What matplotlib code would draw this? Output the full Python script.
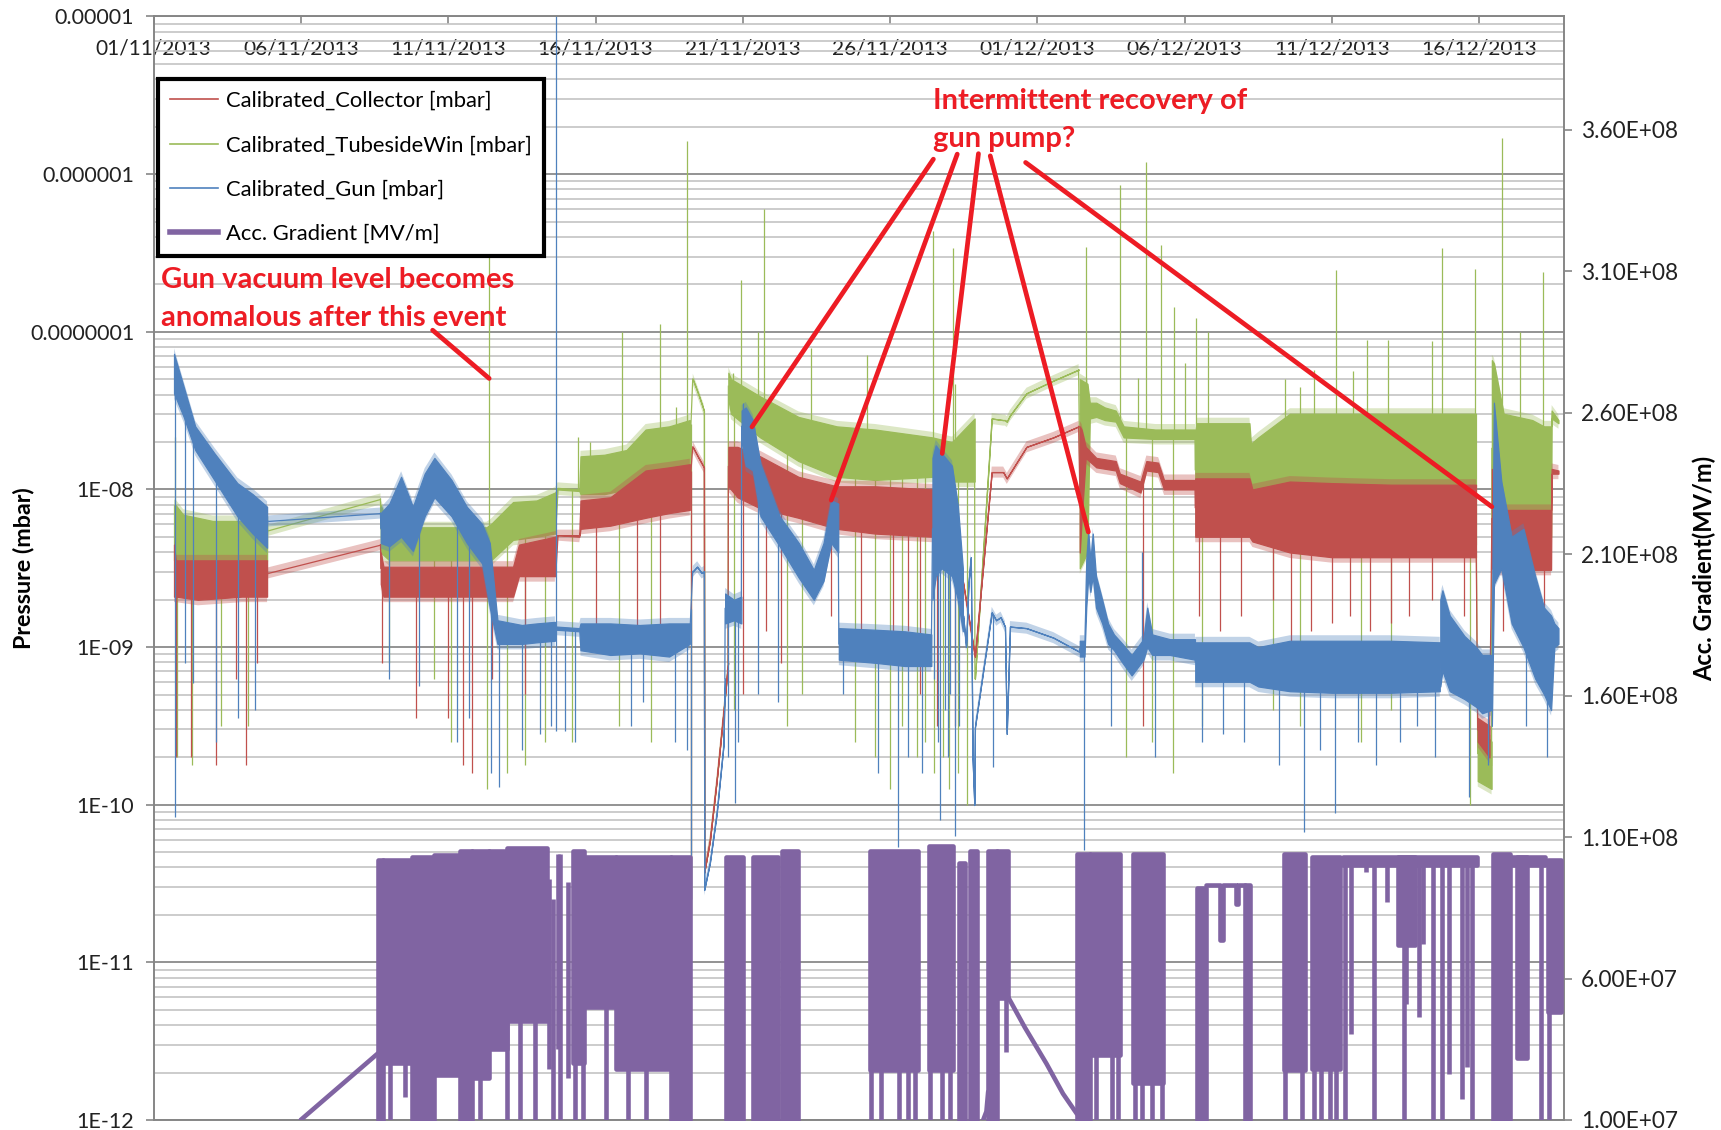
import numpy as np
import matplotlib
matplotlib.use("Agg")
import matplotlib.pyplot as plt
import matplotlib.dates as mdates
from matplotlib.lines import Line2D
from matplotlib.ticker import FixedLocator, FixedFormatter, NullFormatter, LogLocator
from datetime import datetime

plt.rcParams['font.family'] = ['Lato', 'DejaVu Sans']

START = datetime(2013, 11, 1)
T_END = 47.88          # days after 01/11/2013 at the right edge

C_COLL = "#C0504D"
C_TUBE = "#9BBB59"
C_GUN = "#4F81BD"
C_GRAD = "#8064A2"
C_NOTE = "#ED1C24"

# ---------------------------------------------------------------------------
# Pressure traces: time in days since 01/11/2013, values as log10(mbar).
# Each block gives the upper and lower edge of the noisy trace.
# ---------------------------------------------------------------------------
# Calibrated_Gun
gun_s1_t = [0.69, 1.02, 1.41, 2.06, 2.84, 3.36, 3.85]
gun_s1_top = [-7.14, -7.35, -7.60, -7.77, -7.96, -8.03, -8.11]
gun_s1_low = [-7.39, -7.54, -7.75, -7.94, -8.17, -8.28, -8.37]
gun_gap1_t = [3.87, 7.70]
gun_gap1 = [-8.20, -8.15]
gun_s2_t = [7.71, 8.00, 8.40, 8.80, 9.20, 9.53, 10.11, 10.63, 11.15, 11.41, 11.67, 12.50, 13.00, 13.62]
gun_s2_top = [-8.15, -8.09, -7.92, -8.11, -7.90, -7.80, -7.94, -8.11, -8.22, -8.34, -8.83, -8.86, -8.85, -8.84]
gun_s2_low = [-8.34, -8.36, -8.30, -8.39, -8.17, -8.05, -8.17, -8.34, -8.47, -8.75, -8.98, -8.98, -8.97, -8.96]
gun_s3_t = [13.67, 14.45, 14.49, 15.50, 16.50, 17.50, 18.20]
gun_s3_top = [-8.87, -8.88, -8.85, -8.85, -8.86, -8.85, -8.85]
gun_s3_low = [-8.89, -8.90, -9.02, -9.05, -9.04, -9.06, -8.98]
gun_dip_t = [18.30, 18.45, 18.60, 18.68, 18.69, 18.88, 19.11, 19.34, 19.39]
gun_dip = [-8.52, -8.49, -8.53, -8.52, -10.54, -10.37, -10.06, -9.63, -9.20]
gun_s4_t = [19.40, 19.70, 19.95]
gun_s4_top = [-8.66, -8.70, -8.68]
gun_s4_low = [-8.85, -8.83, -8.85]
gun_s5_t = [19.96, 20.10, 20.34, 20.60, 21.25, 21.90, 22.41, 22.74, 23.00, 23.24]
gun_s5_top = [-7.50, -7.48, -7.56, -7.84, -8.17, -8.34, -8.51, -8.34, -8.07, -8.09]
gun_s5_low = [-7.70, -7.85, -7.88, -8.17, -8.36, -8.56, -8.70, -8.58, -8.34, -8.40]
gun_s6_t = [23.26, 24.50, 25.50, 26.40]
gun_s6_top = [-8.88, -8.89, -8.90, -8.92]
gun_s6_low = [-9.08, -9.10, -9.12, -9.12]
gun_s7_t = [26.44, 26.55, 26.75, 27.10, 27.30, 27.47]
gun_s7_top = [-7.80, -7.72, -7.77, -7.85, -8.10, -8.50]
gun_s7_low = [-8.70, -8.55, -8.50, -8.55, -8.70, -8.90]
gun_thin_t = [27.48, 27.58, 27.66, 27.74, 27.80, 27.86, 27.88, 28.45, 28.60, 28.75,
              28.90, 28.96, 29.07, 29.63, 30.54, 31.43]
gun_thin = [-8.80, -9.00, -8.60, -8.43, -9.70, -10.00, -9.51, -8.78, -8.83, -8.81,
            -8.87, -9.55, -8.87, -8.88, -8.94, -9.03]
gun_s8_t = [31.44, 31.60, 31.66, 31.73, 31.80, 31.88, 31.99, 32.20, 32.40, 32.60,
            32.89, 33.20, 33.60, 33.73, 33.90, 34.50, 35.35]
gun_s8_top = [-8.96, -8.96, -8.45, -8.27, -8.45, -8.28, -8.55, -8.70, -8.85, -8.92,
              -8.98, -9.05, -8.95, -8.75, -8.92, -8.95, -8.95]
gun_s8_low = [-9.06, -9.06, -8.75, -8.55, -8.65, -8.55, -8.75, -8.85, -8.98, -9.02,
              -9.10, -9.18, -9.08, -9.00, -9.05, -9.05, -9.08]
gun_s9_t = [35.36, 37.20, 37.50, 38.57, 40.00, 42.00, 43.66]
gun_s9_top = [-8.97, -8.97, -9.00, -8.96, -8.96, -8.96, -8.97]
gun_s9_low = [-9.22, -9.22, -9.25, -9.28, -9.29, -9.29, -9.28]
gun_s10_t = [43.68, 43.75, 44.00, 44.50, 44.90, 45.10, 45.40]
gun_s10_top = [-8.70, -8.64, -8.80, -8.93, -9.00, -9.05, -9.05]
gun_s10_low = [-9.25, -9.15, -9.28, -9.33, -9.38, -9.42, -9.40]
gun_s11_t = [45.43, 45.50, 45.75, 46.10, 46.50, 46.90, 47.20, 47.44, 47.55, 47.69]
gun_s11_top = [-8.90, -7.45, -7.95, -8.30, -8.25, -8.55, -8.75, -8.80, -8.85, -8.88]
gun_s11_low = [-9.50, -8.60, -8.50, -8.85, -9.00, -9.20, -9.30, -9.40, -9.00, -8.98]

gun_dn_t = [0.72, 1.05, 1.35, 2.10, 2.85, 3.45, 8.00, 9.00, 10.30, 10.70, 11.45, 11.72,
            12.50, 13.10, 13.50, 13.66, 13.95, 14.30, 16.20, 16.60, 17.70, 18.10, 18.24,
            19.50, 19.73, 19.85, 20.50, 21.20, 23.40, 24.60, 25.28, 25.60, 26.10, 26.50,
            26.62, 26.70, 26.85, 26.95, 27.05, 27.20, 27.35, 28.50, 31.60, 32.50, 34.00,
            35.60, 36.30, 37.00, 38.20, 39.04, 39.60, 40.10, 40.90, 41.50, 42.30, 42.90,
            43.50, 44.67, 45.30, 46.60, 47.30]
gun_dn_tip = [-10.08, -9.10, -9.23, -9.60, -9.45, -9.40, -9.20, -9.25, -9.60, -9.45, -9.80, -9.89,
              -9.65, -9.55, -9.50, -9.53, -9.53, -9.60, -9.50, -9.35, -9.60, -9.65, -10.60,
              -9.70, -9.99, -9.60, -9.30, -9.35, -9.30, -9.80, -10.27, -9.70, -9.80, -9.20,
              -9.60, -10.10, -9.40, -9.70, -9.30, -10.20, -9.50, -9.76, -10.29, -9.50, -9.70,
              -9.60, -9.55, -9.60, -9.75, -10.17, -9.65, -10.05, -9.60, -9.75, -9.60, -9.50,
              -9.70, -9.95, -9.75, -9.50, -9.70]
gun_up_t = [13.66, 19.99, 33.56]
gun_up_tip = [-4.50, -7.45, -8.40]

# Calibrated_TubesideWin
tube_s1_t = [0.69, 0.75, 1.00, 2.00, 3.00, 3.85]
tube_s1_top = [-8.10, -8.10, -8.16, -8.20, -8.20, -8.17]
tube_s1_low = [-8.45, -8.47, -8.47, -8.47, -8.46, -8.45]
tube_gap1_t = [3.87, 7.70]
tube_gap1 = [-8.26, -8.06]
tube_s2_t = [7.71, 8.00, 11.30, 11.45, 12.20, 13.00, 13.62]
tube_s2_top = [-8.10, -8.24, -8.24, -8.22, -8.08, -8.07, -8.02]
tube_s2_low = [-8.40, -8.45, -8.45, -8.45, -8.32, -8.30, -8.28]
tube_s3_t = [13.63, 13.71, 14.45, 14.49, 15.30, 16.05, 16.70, 17.50, 18.20]
tube_s3_top = [-8.02, -7.99, -8.00, -7.79, -7.78, -7.75, -7.62, -7.60, -7.56]
tube_s3_low = [-8.28, -8.00, -8.01, -8.03, -8.03, -8.00, -8.00, -7.99, -7.99]
tube_dip_t = [18.30, 18.50, 18.68, 18.69, 18.88, 19.11, 19.34, 19.50]
tube_dip = [-7.30, -7.40, -7.50, -10.43, -10.23, -9.85, -9.42, -9.10]
tube_s4_t = [19.51, 19.60, 20.59, 21.89, 23.19, 24.49, 26.44, 27.10, 27.87]
tube_s4_top = [-7.26, -7.30, -7.41, -7.54, -7.60, -7.62, -7.67, -7.70, -7.55]
tube_s4_low = [-7.43, -7.52, -7.67, -7.82, -7.92, -7.94, -7.92, -7.95, -7.95]
tube_thin_t = [27.88, 28.45, 28.83, 28.90, 28.96, 29.07, 29.63, 30.54, 31.40]
tube_thin = [-9.20, -7.55, -7.56, -7.56, -7.57, -7.53, -7.39, -7.31, -7.24]
tube_s5_t = [31.44, 31.70, 31.78, 32.00, 32.29, 32.66, 32.93, 34.00, 35.35]
tube_s5_top = [-7.30, -7.33, -7.45, -7.45, -7.48, -7.50, -7.60, -7.62, -7.62]
tube_s5_low = [-8.50, -8.40, -7.55, -7.54, -7.56, -7.57, -7.67, -7.68, -7.68]
tube_s6_t = [35.36, 35.40, 37.20, 37.25, 37.50, 38.57, 40.20, 41.50, 44.89]
tube_s6_top = [-7.65, -7.58, -7.58, -7.71, -7.67, -7.52, -7.52, -7.52, -7.52]
tube_s6_low = [-8.10, -8.10, -8.15, -8.17, -8.10, -8.05, -8.25, -8.35, -8.35]
tube_s7_t = [44.95, 45.42]
tube_s7_top = [-9.50, -9.60]
tube_s7_low = [-9.85, -9.90]
tube_s8_t = [45.43, 45.50, 45.83, 46.80, 47.20, 47.44, 47.46, 47.69]
tube_s8_top = [-7.18, -7.20, -7.52, -7.56, -7.60, -7.60, -7.50, -7.56]
tube_s8_low = [-8.30, -8.30, -8.30, -8.32, -8.32, -8.30, -7.55, -7.58]

tube_up_t = [0.72, 11.40, 14.40, 14.80, 15.90, 17.20, 17.74, 18.12, 18.39, 19.67,
             19.93, 20.50, 20.72, 22.30, 24.20, 26.47, 27.12, 27.22, 31.64, 32.80,
             33.40, 33.70, 34.19, 34.63, 35.00, 35.39, 35.80, 38.40, 38.90,
             39.38, 40.15, 40.72, 41.20, 41.90, 43.39, 43.74, 44.85, 45.76, 46.40, 47.15]
tube_up_tip = [-7.67, -6.52, -7.67, -7.70, -7.00, -6.95, -7.48, -5.79, -7.33, -7.26,
               -6.67, -7.00, -6.22, -7.10, -7.15, -6.36, -6.47, -7.33, -6.46, -6.07,
               -7.29, -5.92, -6.45, -6.84, -7.20, -6.91, -7.00, -7.30, -7.35,
               -7.24, -6.61, -7.25, -7.05, -7.05, -7.06, -6.47, -6.60, -5.77, -7.00, -6.62]
tube_dn_t = [0.80, 1.30, 2.30, 3.20, 8.00, 9.50, 10.10, 11.30, 12.00, 12.60, 13.30,
             14.20, 15.80, 16.90, 18.24, 19.70, 21.50, 22.00, 23.80, 24.50, 25.00, 25.40,
             25.90, 26.20, 26.50, 26.80, 27.00, 27.30, 27.60, 33.00, 33.90, 34.60, 35.60,
             38.00, 38.90, 41.00, 42.00, 44.70]
tube_dn_tip = [-9.70, -9.75, -9.50, -9.50, -9.10, -9.20, -9.60, -9.90, -9.80, -9.75, -9.60,
               -9.60, -9.50, -9.60, -10.70, -9.40, -9.50, -9.30, -9.60, -9.70, -9.90, -9.50,
               -9.70, -9.60, -9.80, -9.70, -9.90, -9.80, -10.00, -9.70, -9.60, -9.80, -9.50,
               -9.40, -9.50, -9.60, -9.40, -10.00]

# Calibrated_Collector
coll_s1_t = [0.69, 0.75, 1.50, 3.00, 3.85]
coll_s1_top = [-8.35, -8.45, -8.45, -8.45, -8.45]
coll_s1_low = [-8.68, -8.68, -8.70, -8.68, -8.68]
coll_gap1_t = [3.87, 7.70]
coll_gap1 = [-8.53, -8.35]
coll_s2_t = [7.71, 7.80, 12.20, 12.40, 13.62]
coll_s2_top = [-8.40, -8.49, -8.49, -8.35, -8.30]
coll_s2_low = [-8.60, -8.68, -8.68, -8.55, -8.55]
coll_s3_t = [13.63, 13.71, 14.45, 14.49, 15.50, 16.70, 17.50, 18.20]
coll_s3_top = [-8.30, -8.29, -8.29, -8.07, -8.05, -7.88, -7.86, -7.84]
coll_s3_low = [-8.55, -8.29, -8.30, -8.25, -8.23, -8.18, -8.15, -8.13]
coll_dip_t = [18.30, 18.50, 18.68, 18.69, 18.88, 19.11, 19.34, 19.50]
coll_dip = [-7.73, -7.80, -7.86, -10.43, -10.23, -9.85, -9.42, -9.10]
coll_s4_t = [19.51, 19.82, 20.59, 21.89, 23.19, 24.49, 26.44, 27.00]
coll_s4_top = [-7.73, -7.73, -7.79, -7.92, -7.98, -7.98, -8.00, -8.02]
coll_s4_low = [-7.98, -8.05, -8.12, -8.18, -8.25, -8.28, -8.30, -8.30]
coll_thin_t = [27.02, 27.40, 27.88, 28.45, 28.84, 28.96, 29.63, 30.54, 31.40]
coll_thin = [-8.25, -8.50, -9.06, -7.89, -7.89, -7.93, -7.73, -7.67, -7.60]
coll_s5_t = [31.44, 31.50, 31.64, 32.00, 32.66, 32.80, 33.50, 33.70, 34.10, 34.30, 35.35]
coll_s5_top = [-7.60, -7.62, -7.73, -7.80, -7.82, -7.90, -7.95, -7.82, -7.83, -7.94, -7.94]
coll_s5_low = [-8.40, -8.20, -7.80, -7.86, -7.88, -7.96, -8.02, -7.88, -7.89, -8.00, -8.00]
coll_s6_t = [35.36, 37.20, 37.30, 38.57, 40.00, 42.00, 44.89]
coll_s6_top = [-7.93, -7.93, -8.00, -7.95, -7.96, -7.97, -7.97]
coll_s6_low = [-8.30, -8.30, -8.33, -8.40, -8.43, -8.43, -8.43]
coll_s7_t = [44.95, 45.35]
coll_s7_top = [-9.45, -9.50]
coll_s7_low = [-9.60, -9.70]
coll_s8_t = [45.43, 45.50, 47.44, 47.46, 47.69]
coll_s8_top = [-7.87, -8.13, -8.13, -7.87, -7.88]
coll_s8_low = [-8.50, -8.51, -8.51, -7.90, -7.90]

coll_dn_t = [0.75, 1.25, 2.10, 2.80, 3.15, 3.50, 7.75, 8.90, 10.00, 10.50, 10.80, 11.50, 12.60,
             15.00, 16.40, 17.20, 18.24, 20.00, 20.80, 21.30, 23.00, 24.00, 25.10, 25.60, 26.00,
             26.60, 27.20, 33.60, 35.50, 36.20, 36.90, 38.00, 38.60, 39.30, 40.00, 40.60, 41.30,
             42.00, 42.60, 43.40, 44.50, 45.80, 46.50, 47.20]
coll_dn_tip = [-9.70, -9.70, -9.75, -9.20, -9.75, -9.10, -9.10, -9.45, -9.45, -9.75, -9.80, -9.20, -9.30,
               -9.00, -8.90, -9.05, -10.60, -9.30, -8.90, -9.10, -8.80, -9.00, -8.90, -8.90, -9.30,
               -9.50, -9.50, -9.50, -8.80, -8.90, -8.80, -8.70, -9.00, -8.90, -8.85, -8.80, -8.90,
               -8.85, -8.80, -8.70, -8.80, -8.90, -8.85, -8.80]

# ---------------------------------------------------------------------------
# Acc. Gradient (right axis, MV/m)
# Busy periods: start day, end day, upper and lower edge of the switching trace
# ---------------------------------------------------------------------------
grad_on_start = [7.63, 7.80, 8.76, 9.50, 10.40, 10.80, 11.40, 12.00, 14.24, 14.60, 15.70, 17.55,
                 19.43, 20.36, 21.32, 24.32, 26.33, 27.35, 27.71, 28.33, 28.62, 31.35, 31.78,
                 33.25, 35.41, 37.05, 38.37, 39.34, 40.38, 42.25, 45.48, 46.04, 46.27, 47.34]
grad_on_end = [7.80, 8.76, 9.50, 10.40, 10.80, 11.40, 12.00, 13.35, 14.60, 15.70, 17.55, 18.20,
               20.02, 21.20, 21.88, 25.96, 27.14, 27.54, 27.94, 28.62, 29.01, 31.78, 32.80,
               34.27, 35.74, 37.22, 39.08, 40.27, 44.91, 42.82, 46.04, 47.23, 46.61, 47.79]
grad_on_top = [1.02e8, 1.02e8, 1.03e8, 1.035e8, 1.05e8, 1.05e8, 1.05e8, 1.06e8, 1.05e8, 1.03e8, 1.03e8, 1.03e8,
               1.03e8, 1.03e8, 1.05e8, 1.05e8, 1.07e8, 1.01e8, 1.05e8, 1.05e8, 1.05e8, 1.04e8, 1.04e8,
               1.04e8, 9.20e7, 9.29e7, 1.04e8, 1.03e8, 1.03e8, 1.03e8, 1.04e8, 1.03e8, 1.03e8, 1.02e8]
grad_on_low = [1.0e7, 3.0e7, 1.0e7, 2.6e7, 1.0e7, 2.5e7, 3.5e7, 4.5e7, 3.0e7, 5.0e7, 2.8e7, 1.0e7,
               1.0e7, 1.0e7, 1.0e7, 2.75e7, 2.75e7, 1.0e7, 1.0e7, 1.0e7, 5.3e7, 1.0e7, 3.3e7,
               2.3e7, 1.0e7, 1.0e7, 2.75e7, 2.8e7, 1.0e8, 7.17e7, 1.0e7, 1.0e8, 3.2e7, 4.8e7]

# Individual trips: time, level before the drop, level reached
grad_trip_t = [8.02, 8.53, 11.08, 11.98, 12.43, 12.94, 13.42, 13.56, 13.72, 13.81, 14.08, 14.30,
               14.58, 15.37, 16.11, 16.73, 24.35, 24.70, 25.30, 25.60, 25.85, 26.36, 26.75, 27.03,
               28.92, 32.00, 32.55, 32.75, 33.30, 33.55, 33.88, 34.22, 38.42, 38.98, 39.40, 39.62,
               39.95, 40.15, 40.44, 40.65, 41.17, 41.42, 41.86, 42.44, 42.50, 42.94, 43.10, 43.43,
               43.72, 43.98, 44.42, 44.57, 44.74, 47.10, 47.36]
grad_trip_hi = [1.0e8, 1.0e8, 1.0e8, 1.0e8, 1.0e8, 1.0e8, 9.5e7, 8.8e7, 1.04e8, 1.04e8, 9.4e7, 1.0e8,
                1.0e8, 1.0e8, 1.0e8, 1.0e8, 1.0e8, 1.0e8, 1.0e8, 1.0e8, 1.0e8, 1.0e8, 1.0e8, 1.0e8,
                1.0e8, 1.0e8, 1.0e8, 1.0e8, 1.0e8, 1.0e8, 1.0e8, 1.0e8, 1.0e8, 1.0e8, 1.0e8, 1.0e8,
                1.0e8, 1.0e8, 1.0e8, 1.0e8, 1.0e8, 1.0e8, 1.0e8, 1.0e8, 1.0e8, 1.0e8, 1.0e8, 1.0e8,
                1.0e8, 1.0e8, 1.0e8, 1.0e8, 1.0e8, 1.0e8, 1.0e8]
grad_trip_lo = [1.0e7, 1.8e7, 1.0e7, 1.0e7, 1.0e7, 1.0e7, 2.8e7, 1.0e7, 3.5e7, 1.0e7, 2.5e7, 1.0e7,
                1.0e7, 1.0e7, 1.0e7, 1.0e7, 1.0e7, 1.0e7, 1.0e7, 1.0e7, 1.0e7, 1.0e7, 1.0e7, 1.0e7,
                3.4e7, 1.0e7, 1.0e7, 1.0e7, 1.0e7, 1.0e7, 1.0e7, 1.0e7, 1.0e7, 1.0e7, 1.0e7, 1.0e7,
                1.0e7, 1.0e7, 1.0e7, 4.05e7, 9.76e7, 1.0e7, 8.7e7, 1.0e7, 5.1e7, 4.64e7, 7.23e7, 1.0e7,
                1.0e7, 2.64e7, 1.75e7, 2.87e7, 1.0e7, 1.0e7, 1.0e7]

# Slow ramps and plateau traces
grad_ramp_t = [4.99, 7.63]
grad_ramp = [1.0e7, 3.37e7]
grad_arc_t = [28.16, 28.27, 28.33]
grad_arc = [1.0e7, 1.3e7, 2.0e7]
grad_decay_t = [29.01, 29.57, 30.31, 30.87, 31.34]
grad_decay = [5.34e7, 4.28e7, 2.99e7, 1.93e7, 1.22e7]
grad_frame_t = [35.74, 36.20, 36.20, 36.30, 36.30, 36.75, 36.75, 36.82, 36.82, 37.05]
grad_frame = [9.29e7, 9.29e7, 7.35e7, 7.35e7, 9.29e7, 9.29e7, 8.65e7, 8.65e7, 9.29e7, 9.29e7]

# Axis ticks and labels
pressure_ticks = [1e-12, 1e-11, 1e-10, 1e-9, 1e-8, 1e-7, 1e-6, 1e-5]
pressure_labels = ["1E-12", "1E-11", "1E-10", "1E-09", "1E-08", "0.0000001", "0.000001", "0.00001"]
gradient_ticks = [1.0e7, 6.0e7, 1.1e8, 1.6e8, 2.1e8, 2.6e8, 3.1e8, 3.6e8]
gradient_labels = ["1.00E+07", "6.00E+07", "1.10E+08", "1.60E+08", "2.10E+08",
                   "2.60E+08", "3.10E+08", "3.60E+08"]

series_names = ["Calibrated_Collector [mbar]", "Calibrated_TubesideWin [mbar]",
                "Calibrated_Gun [mbar]", "Acc. Gradient [MV/m]"]

# ---------------------------------------------------------------------------
T0 = mdates.date2num(START)


def to_x(t):
    return T0 + np.asarray(t, dtype=float)


def draw_pressure(ax, blocks, color, z, dn_t, dn_tip, up_t, up_tip):
    """blocks: list of (t, top, low) in log10(mbar); thin parts have top == low."""
    all_t, all_mid = [], []
    prev = None
    for t, top, low in blocks:
        x = to_x(t)
        top = np.asarray(top, float)
        low = np.asarray(low, float)
        ax.fill_between(x, 10 ** (low - 0.035), 10 ** (top + 0.035), facecolor=color,
                        edgecolor='none', alpha=0.35, zorder=z)
        ax.fill_between(x, 10 ** low, 10 ** top, facecolor=color, edgecolor=color,
                        linewidth=0.9, zorder=z)
        mid = 0.5 * (top + low)
        if prev is not None:
            ax.plot([prev[0], x[0]], [10 ** prev[1], 10 ** mid[0]], color=color,
                    lw=0.9, zorder=z)
        prev = (x[-1], mid[-1])
        all_t.extend(t)
        all_mid.extend(mid)
    all_t = np.asarray(all_t)
    all_mid = np.asarray(all_mid)
    for ts, tips in ((dn_t, dn_tip), (up_t, up_tip)):
        base = np.interp(ts, all_t, all_mid)
        ax.vlines(to_x(ts), 10 ** np.asarray(tips), 10 ** base, color=color,
                  lw=0.9, zorder=z)


fig = plt.figure(figsize=(17.21, 11.30), dpi=100)
ax1 = fig.add_axes([0.0893, 0.00885, 0.8195, 0.97655])
ax2 = ax1.twinx()

# Pressure traces (tubeside first, collector over it, gun on top)
draw_pressure(ax1, [(tube_s1_t, tube_s1_top, tube_s1_low), (tube_gap1_t, tube_gap1, tube_gap1),
                    (tube_s2_t, tube_s2_top, tube_s2_low), (tube_s3_t, tube_s3_top, tube_s3_low),
                    (tube_dip_t, tube_dip, tube_dip), (tube_s4_t, tube_s4_top, tube_s4_low),
                    (tube_thin_t, tube_thin, tube_thin), (tube_s5_t, tube_s5_top, tube_s5_low),
                    (tube_s6_t, tube_s6_top, tube_s6_low), (tube_s7_t, tube_s7_top, tube_s7_low),
                    (tube_s8_t, tube_s8_top, tube_s8_low)],
              C_TUBE, 2, tube_dn_t, tube_dn_tip, tube_up_t, tube_up_tip)
draw_pressure(ax1, [(coll_s1_t, coll_s1_top, coll_s1_low), (coll_gap1_t, coll_gap1, coll_gap1),
                    (coll_s2_t, coll_s2_top, coll_s2_low), (coll_s3_t, coll_s3_top, coll_s3_low),
                    (coll_dip_t, coll_dip, coll_dip), (coll_s4_t, coll_s4_top, coll_s4_low),
                    (coll_thin_t, coll_thin, coll_thin), (coll_s5_t, coll_s5_top, coll_s5_low),
                    (coll_s6_t, coll_s6_top, coll_s6_low), (coll_s7_t, coll_s7_top, coll_s7_low),
                    (coll_s8_t, coll_s8_top, coll_s8_low)],
              C_COLL, 3, coll_dn_t, coll_dn_tip, [], [])
draw_pressure(ax1, [(gun_s1_t, gun_s1_top, gun_s1_low), (gun_gap1_t, gun_gap1, gun_gap1),
                    (gun_s2_t, gun_s2_top, gun_s2_low), (gun_s3_t, gun_s3_top, gun_s3_low),
                    (gun_dip_t, gun_dip, gun_dip), (gun_s4_t, gun_s4_top, gun_s4_low),
                    (gun_s5_t, gun_s5_top, gun_s5_low), (gun_s6_t, gun_s6_top, gun_s6_low),
                    (gun_s7_t, gun_s7_top, gun_s7_low), (gun_thin_t, gun_thin, gun_thin),
                    (gun_s8_t, gun_s8_top, gun_s8_low), (gun_s9_t, gun_s9_top, gun_s9_low),
                    (gun_s10_t, gun_s10_top, gun_s10_low), (gun_s11_t, gun_s11_top, gun_s11_low)],
              C_GUN, 4, gun_dn_t, gun_dn_tip, gun_up_t, gun_up_tip)

# Accelerating gradient on the right axis
GLW = 3.3
for s, e, hi, lo in zip(grad_on_start, grad_on_end, grad_on_top, grad_on_low):
    ax2.fill_between(to_x([s, e]), [lo, lo], [hi, hi], facecolor=C_GRAD, edgecolor=C_GRAD,
                     linewidth=GLW, zorder=3)
ax2.vlines(to_x(grad_trip_t), grad_trip_lo, grad_trip_hi, color=C_GRAD, lw=GLW, zorder=3)
for tt, vv in ((grad_ramp_t, grad_ramp), (grad_arc_t, grad_arc),
               (grad_decay_t, grad_decay), (grad_frame_t, grad_frame)):
    ax2.plot(to_x(tt), vv, color=C_GRAD, lw=GLW, solid_capstyle='round', zorder=3)

# Axes scales
ax1.set_yscale('log')
ax1.set_ylim(1e-12, 1e-5)
ax2.set_ylim(1.0e7, 4.0e8)
ax1.set_xlim(T0, T0 + T_END)

ax1.yaxis.set_major_locator(FixedLocator(pressure_ticks))
ax1.yaxis.set_major_formatter(FixedFormatter(pressure_labels))
ax1.yaxis.set_minor_locator(LogLocator(base=10, subs=np.arange(2, 10), numticks=100))
ax1.yaxis.set_minor_formatter(NullFormatter())
ax2.yaxis.set_major_locator(FixedLocator(gradient_ticks))
ax2.yaxis.set_major_formatter(FixedFormatter(gradient_labels))

ax1.xaxis.set_major_locator(mdates.DayLocator(bymonthday=[1, 6, 11, 16, 21, 26]))
ax1.xaxis.set_major_formatter(mdates.DateFormatter('%d/%m/%Y'))

ax1.set_axisbelow(True)
ax1.grid(True, which='major', axis='y', color='#8A8A8A', lw=1.3)
ax1.grid(True, which='minor', axis='y', color='#C4C4C4', lw=1.2)
ax1.grid(False, axis='x')

ax1.tick_params(axis='y', which='major', direction='out', length=6, width=1.2,
                color='#868686', labelsize=15.5, pad=8, labelcolor='#222222')
ax1.tick_params(axis='y', which='minor', length=0)
ax1.tick_params(axis='x', which='both', top=True, bottom=False, labeltop=True,
                labelbottom=False, direction='in', length=6, width=1.2, color='#868686',
                labelsize=15, pad=-30, labelcolor='#222222')
ax2.tick_params(axis='y', direction='out', length=6, width=1.2, color='#868686',
                labelsize=16.3, pad=6, labelcolor='#222222')
ax2.tick_params(axis='x', which='both', top=False, bottom=False, labeltop=False,
                labelbottom=False)
for ax in (ax1, ax2):
    for sp in ax.spines.values():
        sp.set_color('#868686')
        sp.set_linewidth(1.2)

fig.text(0.0135, 0.4968, "Pressure (mbar)", rotation=90, ha='center', va='center',
         fontsize=16.8, fontweight='bold', color='black')
fig.text(0.9905, 0.4968, "Acc. Gradient(MV/m)", rotation=90, ha='center', va='center',
         fontsize=17, fontweight='bold', color='black')

# Annotations
NOTE_LW = 3.4
ax1.plot(to_x([9.47, 11.39]), [10 ** -6.99, 10 ** -7.296], color=C_NOTE, lw=NOTE_LW,
         solid_capstyle='round', zorder=10)
note_start_t = [26.47, 27.28, 28.00, 28.40, 29.60]
note_start_lg = [-5.905, -5.873, -5.870, -5.884, -5.926]
note_end_t = [20.31, 23.00, 26.77, 31.73, 45.43]
note_end_lg = [-7.603, -8.068, -7.772, -8.270, -8.110]
for t0, y0, t1, y1 in zip(note_start_t, note_start_lg, note_end_t, note_end_lg):
    ax1.plot(to_x([t0, t1]), [10 ** y0, 10 ** y1], color=C_NOTE, lw=NOTE_LW,
             solid_capstyle='round', zorder=10)

NOTE_FONT = 21
ax1.text(0.0054, 0.7612, "Gun vacuum level becomes", transform=ax1.transAxes, ha='left',
         va='center', fontsize=NOTE_FONT, fontweight='bold', color=C_NOTE, zorder=11)
ax1.text(0.0054, 0.7264, "anomalous after this event", transform=ax1.transAxes, ha='left',
         va='center', fontsize=NOTE_FONT, fontweight='bold', color=C_NOTE, zorder=11)
ax1.text(0.5525, 0.9234, "Intermittent recovery of", transform=ax1.transAxes, ha='left',
         va='center', fontsize=NOTE_FONT, fontweight='bold', color=C_NOTE, zorder=11)
ax1.text(0.5525, 0.8886, "gun pump?", transform=ax1.transAxes, ha='left',
         va='center', fontsize=NOTE_FONT, fontweight='bold', color=C_NOTE, zorder=11)

# Legend
handles = [Line2D([], [], color=C_COLL, lw=1.2), Line2D([], [], color=C_TUBE, lw=1.2),
           Line2D([], [], color=C_GUN, lw=1.2), Line2D([], [], color=C_GRAD, lw=4)]
leg = ax2.legend(handles, series_names, loc='upper left', bbox_to_anchor=(0.0031, 0.9433),
                 borderaxespad=0, frameon=True, fancybox=False, framealpha=1,
                 edgecolor='black', facecolor='white', fontsize=15.8, handlelength=2.2,
                 handletextpad=0.35, labelspacing=1.1, borderpad=0.55)
leg.get_frame().set_linewidth(3)
leg.set_zorder(20)

fig.savefig("out.png", dpi=100)
